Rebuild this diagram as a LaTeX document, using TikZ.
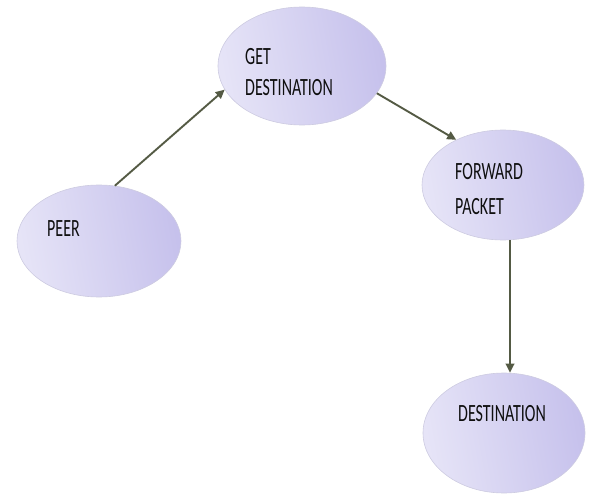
\documentclass[tikz,border=0pt]{standalone}
\usepackage{fontspec}
\setmainfont{Carlito}
\usetikzlibrary{shapes.geometric,arrows.meta,calc}
\definecolor{lavL}{RGB}{230,228,247}
\definecolor{lavR}{RGB}{198,193,236}
\definecolor{edgec}{RGB}{205,203,225}
\definecolor{arrowc}{RGB}{84,90,68}
\definecolor{txtc}{RGB}{15,15,15}
\newcommand{\lbl}[1]{\scalebox{1}[1.55]{#1}}
\tikzset{
  bubble/.style={ellipse, inner sep=0pt, draw=edgec, line width=0.6pt,
    left color=lavL, right color=lavR, shading angle=100},
  txt/.style={anchor=north west, inner sep=0pt, align=left, text=txtc},
  flow/.style={draw=arrowc, line width=1.9pt, -{Triangle[length=9pt,width=8.5pt]}}
}
\begin{document}
\begin{tikzpicture}[x=1pt,y=-1pt]
\useasboundingbox (0,0) rectangle (590,495);
\node[bubble, minimum width=164pt, minimum height=112pt] (peer) at (99,241) {};
\node[bubble, minimum width=168pt, minimum height=118pt] (get) at (302,66) {};
\node[bubble, minimum width=162pt, minimum height=110pt] (fwd) at (503,185) {};
\node[bubble, minimum width=162pt, minimum height=120pt] (dest) at (504,433) {};
\node[txt, font=\fontsize{16}{20}\selectfont] (tpeer) at (47,220) {\lbl{PEER}};
\node[txt, font=\fontsize{16}{31}\selectfont] (tget) at (245,48) {\lbl{GET}\\\lbl{DESTINATION}};
\node[txt, font=\fontsize{16}{35}\selectfont] (tfwd) at (455,163) {\lbl{FORWARD}\\\lbl{PACKET}};
\node[txt, font=\fontsize{16}{20}\selectfont] (tdest) at (458,405) {\lbl{DESTINATION}};
\draw[flow] (peer.74) -- (get.197);
\draw[flow] (get.340) -- (fwd.136);
\draw[flow] ([xshift=7pt]fwd.south) -- ([xshift=6pt]dest.north);
\end{tikzpicture}
\end{document}
